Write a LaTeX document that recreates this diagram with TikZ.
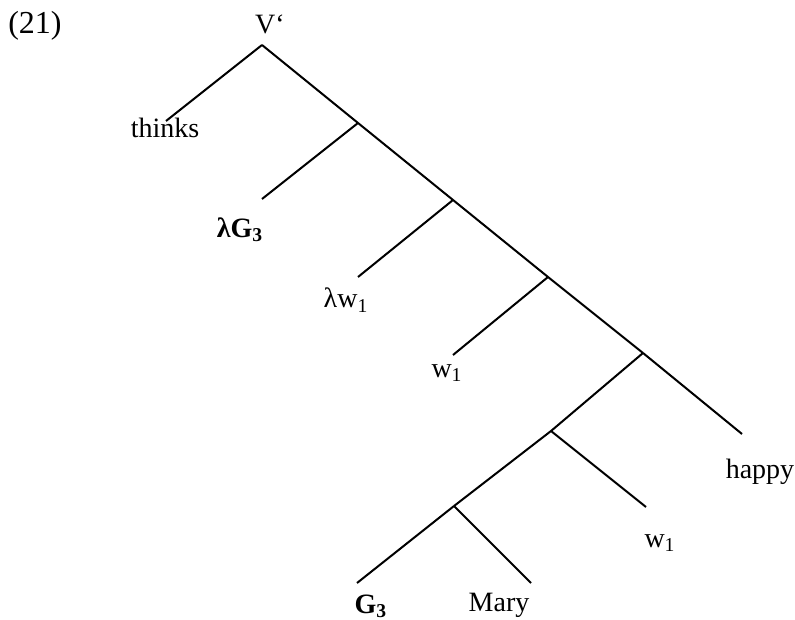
\documentclass[tikz,border=0pt]{standalone}
\usepackage{fontspec}
\setmainfont{Liberation Serif}

\begin{document}
\begin{tikzpicture}[x=0.5pt, y=-0.5pt, line width=1pt]
  \useasboundingbox (0,0) rectangle (795,619);
  \tikzset{lbl/.style={inner sep=0pt, font=\fontsize{14}{16}\selectfont}}
  % branching points
  \coordinate (root) at (262,45);
  \coordinate (n1) at (358,123);
  \coordinate (n2) at (453,200);
  \coordinate (n3) at (548,277);
  \coordinate (n4) at (643,353);
  \coordinate (n5) at (551,431);
  \coordinate (n6) at (454,506);
  % leaf ends
  \coordinate (thinksend) at (166,121);
  \coordinate (lgend) at (262,199);
  \coordinate (lwend) at (358,277);
  \coordinate (wend) at (453,355);
  \coordinate (happyend) at (742,434);
  \coordinate (wtwoend) at (646,507);
  \coordinate (gend) at (357,583);
  \coordinate (maryend) at (531,583);
  % spine and branches
  \draw (root) -- (n1) -- (n2) -- (n3) -- (n4);
  \draw (root) -- (thinksend);
  \draw (n1) -- (lgend);
  \draw (n2) -- (lwend);
  \draw (n3) -- (wend);
  \draw (n4) -- (happyend);
  \draw (n4) -- (n5) -- (n6);
  \draw (n5) -- (wtwoend);
  \draw (n6) -- (gend);
  \draw (n6) -- (maryend);
  % labels
  \node[lbl, font=\fontsize{16}{18}\selectfont] (ex) at (35,26) {(21)};
  \node[lbl] (vbar) at (270,24) {V‘};
  \node[lbl] (thinks) at (165,128) {thinks};
  \node[lbl] (lg) at (240,230) {\textbf{λG\textsubscript{3}}};
  \node[lbl] (lw) at (346,300) {λw\textsubscript{1}};
  \node[lbl] (w) at (447,373) {w\textsubscript{1}};
  \node[lbl] (happy) at (760,472) {happy};
  \node[lbl] (wtwo) at (660,543) {w\textsubscript{1}};
  \node[lbl] (g) at (371,606) {\textbf{G\textsubscript{3}}};
  \node[lbl] (mary) at (499,605) {Mary};
\end{tikzpicture}
\end{document}
